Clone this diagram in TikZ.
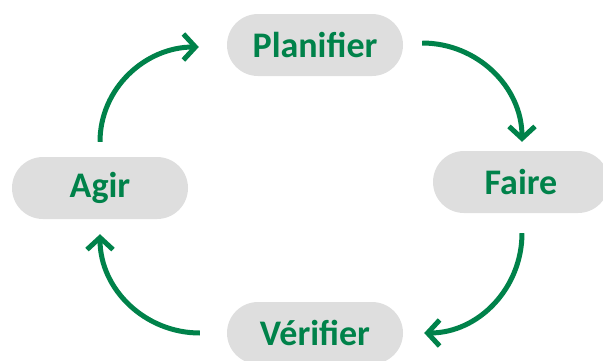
\documentclass[tikz,border=0pt]{standalone}
\usepackage{fontspec}
\setmainfont{Carlito}
\usetikzlibrary{shapes.misc,arrows.meta}
\definecolor{pillgray}{HTML}{DEDEDE}
\definecolor{pdgreen}{HTML}{00824A}
\tikzset{
  pill/.style={rounded rectangle, fill=pillgray, minimum width=176pt, minimum height=62pt,
    inner sep=0pt, text=pdgreen, font=\fontsize{36}{40}\selectfont\bfseries},
  cyclearrow/.style={draw=pdgreen, line width=5pt,
    -{Straight Barb[length=12pt,width=26pt,line width=5pt]}}
}
\begin{document}
\begin{tikzpicture}[x=1pt,y=-1pt]
\useasboundingbox (0,0) rectangle (603,360);
\node[pill] (plan) at (315,45) {Planifier};
\node[pill] (faire) at (521,182) {Faire};
\node[pill] (verif) at (315,333) {Vérifier};
\node[pill] (agir) at (100,188) {Agir};
% arrow end points
\coordinate (a1s) at ([yshift=15pt]agir.north);
\coordinate (a1e) at ([xshift=-28pt,yshift=-2pt]plan.west);
\coordinate (a2s) at ([xshift=19pt,yshift=2pt]plan.east);
\coordinate (a2e) at ([xshift=1pt,yshift=9pt]faire.north);
\coordinate (a3s) at ([xshift=1pt,yshift=-20pt]faire.south);
\coordinate (a3e) at ([xshift=21pt]verif.east);
\coordinate (a4s) at ([xshift=-27pt]verif.west);
\coordinate (a4e) at ([yshift=-15pt]agir.south);
\draw[cyclearrow] (a1s) to[out=90,in=180] (a1e);
\draw[cyclearrow] (a2s) to[out=0,in=90] (a2e);
\draw[cyclearrow] (a3s) to[out=-90,in=0] (a3e);
\draw[cyclearrow] (a4s) to[out=180,in=-90] (a4e);
\end{tikzpicture}
\end{document}
